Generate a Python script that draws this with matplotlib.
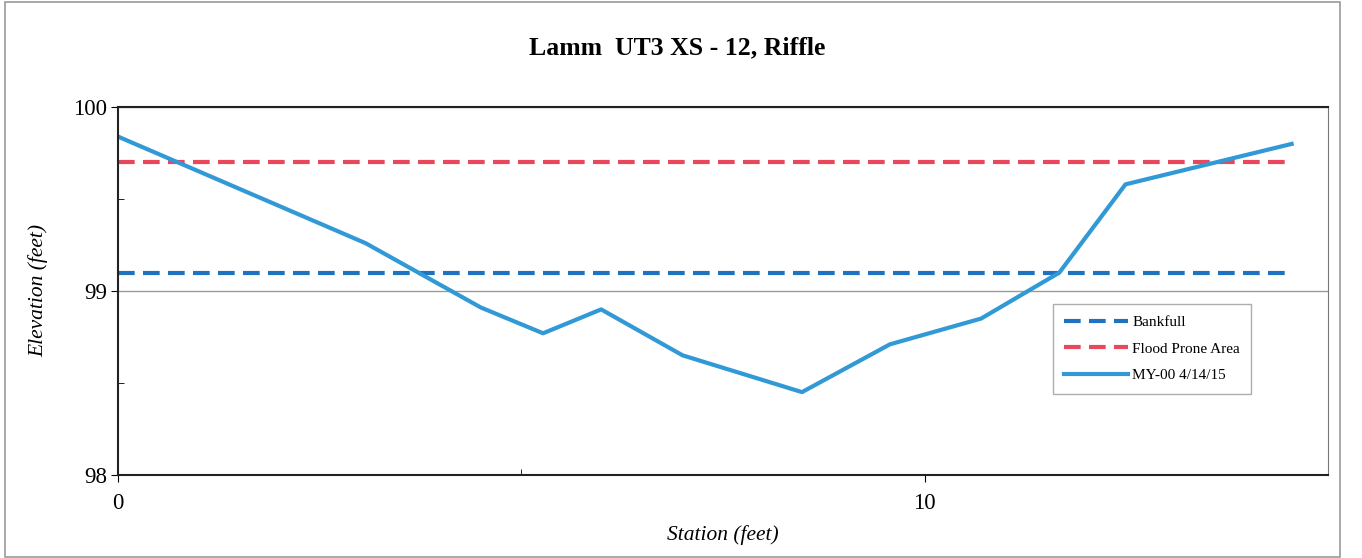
"""
Cross-section plot: Lamm UT3 XS-12, Riffle.
"""
import numpy as np
import matplotlib.pyplot as plt
from matplotlib.patches import Rectangle
from matplotlib.ticker import MultipleLocator

# station / elevation survey (MY-00 4/14/15)
station = [0.0, 3.07, 4.5, 5.27, 5.99, 7.0, 8.48, 9.57, 10.7, 11.67, 12.49, 14.55]
elevation = [99.84, 99.26, 98.91, 98.77, 98.90, 98.65, 98.45, 98.71, 98.85, 99.10, 99.58, 99.80]

# reference elevations
bankfull = 99.10
flood_prone = 99.70
ref_station = [0.0, 14.53]

plt.rcParams['font.family'] = ['Liberation Serif', 'DejaVu Serif']

fig = plt.figure(figsize=(13.62, 5.58), dpi=100)
ax = fig.add_axes([0.0866, 0.149, 0.8884, 0.659])

# outer chart frame
fig.patches.append(Rectangle((0.004, 0.002), 0.98, 0.994, transform=fig.transFigure,
                             fill=False, edgecolor='#9a9a9a', linewidth=1.2))

ax.plot(ref_station, [bankfull, bankfull], color='#1f72c0', linewidth=3,
        dashes=(4, 2), label='Bankfull')
ax.plot(ref_station, [flood_prone, flood_prone], color='#e9475c', linewidth=3,
        dashes=(4, 2), label='Flood Prone Area')
ax.plot(station, elevation, color='#3199d6', linewidth=3, label='MY-00 4/14/15')

ax.set_xlim(0, 15)
ax.set_ylim(98, 100)
ax.xaxis.set_major_locator(MultipleLocator(10))
ax.xaxis.set_minor_locator(MultipleLocator(5))
ax.yaxis.set_major_locator(MultipleLocator(1))
ax.yaxis.set_minor_locator(MultipleLocator(0.5))
ax.tick_params(which='major', direction='out', length=5, labelsize=16.5)
ax.tick_params(axis='x', which='major', pad=8)
ax.tick_params(axis='y', which='major', pad=3)
ax.tick_params(which='minor', direction='in', length=4)
ax.grid(True, axis='y', which='major', color='#9a9a9a', linewidth=1)

for side in ['top', 'left', 'bottom']:
    ax.spines[side].set_linewidth(1.5)
    ax.spines[side].set_color('#222222')
ax.spines['right'].set_color('#777777')

fig.text(0.497, 0.915, 'Lamm  UT3 XS - 12, Riffle', fontsize=18.5, fontweight='bold',
         ha='center', va='center')
ax.set_xlabel('Station (feet)', fontsize=15.5, style='italic', labelpad=8)
ax.set_ylabel('Elevation (feet)', fontsize=15.5, style='italic', labelpad=18)

leg = ax.legend(loc='upper left', bbox_to_anchor=(0.7725, 0.465), fontsize=11,
                frameon=True, fancybox=False, edgecolor='#999999', handlelength=4.2,
                labelspacing=0.85, borderpad=0.75, handletextpad=0.25, borderaxespad=0)
leg.get_frame().set_linewidth(1)

fig.savefig('out.png', dpi=100)
